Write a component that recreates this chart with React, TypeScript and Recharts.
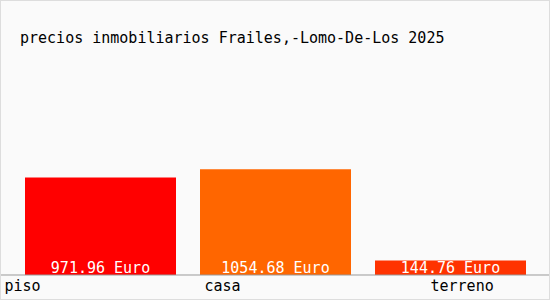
import { BarChart, Bar, XAxis, YAxis, Cell, LabelList } from "recharts";

const categories = ["piso", "casa", "terreno"];
const prices = [971.96, 1054.68, 144.76];
const COLORS = ["#FF0000", "#FF6600", "#FF3300"];
// where each category name starts, relative to the bar centre
const TICK_DX = [-96, -71, -20];

const FONT = "'DejaVu Sans Mono', monospace";

const chartData = categories.map((name, i) => ({ name, value: prices[i] }));

function CategoryTick(props: any) {
  const { x, y, payload, index } = props;
  return (
    <text x={x + TICK_DX[index]} y={y} dy={16} textAnchor="start" fontFamily={FONT} fontSize={15} fill="#000">
      {payload.value}
    </text>
  );
}

function PriceLabel(props: any) {
  const { x, y, width, height, value } = props;
  return (
    <text x={x + width / 2} y={y + height - 2} textAnchor="middle" fontFamily={FONT} fontSize={15} fill="#fff">
      {Number(value).toFixed(2)} Euro
    </text>
  );
}

export default function App() {
  return (
    <div style={{ position: "fixed", left: 0, top: 0, width: 550, height: 300, background: "#fafafa" }}>
      <div
        style={{
          position: "absolute",
          left: 20,
          top: 31,
          fontFamily: FONT,
          fontSize: 15,
          lineHeight: "15px",
          color: "#000",
          whiteSpace: "nowrap",
        }}
      >
        precios inmobiliarios Frailes,-Lomo-De-Los 2025
      </div>
      <div style={{ position: "absolute", left: 0, top: 0 }}>
        <BarChart width={550} height={300} data={chartData} margin={{ top: 0, right: 0, left: 0, bottom: 0 }} barCategoryGap={12}>
          <XAxis
            dataKey="name"
            height={25}
            padding={{ left: 13, right: 12 }}
            axisLine={{ stroke: "#999" }}
            tickLine={false}
            tickSize={0}
            tickMargin={0}
            tick={<CategoryTick />}
            interval={0}
          />
          <YAxis hide domain={[0, 2740]} />
          <Bar dataKey="value" isAnimationActive={false}>
            {chartData.map((_, idx) => (
              <Cell key={idx} fill={COLORS[idx % COLORS.length]} />
            ))}
            <LabelList dataKey="value" content={<PriceLabel />} />
          </Bar>
        </BarChart>
      </div>
      <div style={{ position: "absolute", inset: 0, border: "1px solid #ddd", pointerEvents: "none" }} />
    </div>
  );
}
